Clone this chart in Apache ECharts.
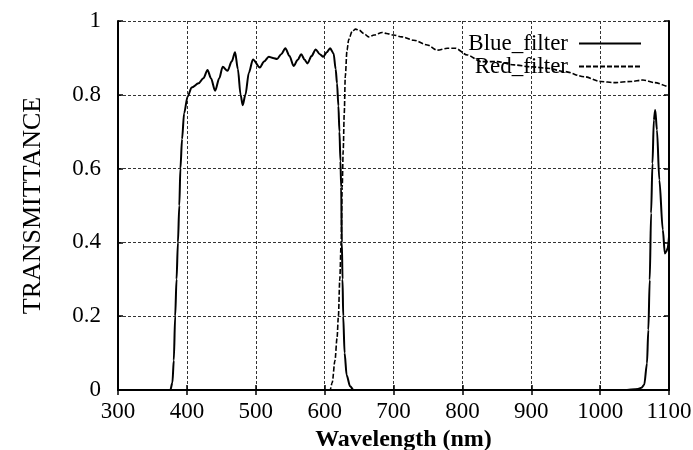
<!DOCTYPE html>
<html>
<head>
<meta charset="utf-8">
<script src="https://cdn.jsdelivr.net/npm/echarts@6/dist/echarts.min.js"></script>
<style>html,body{margin:0;padding:0;background:#fff;}#c{width:693px;height:450px;}</style>
</head>
<body>
<div id="c"></div>
<script>
const xTicks = [300, 400, 500, 600, 700, 800, 900, 1000, 1100];
const yTicks = [0, 0.2, 0.4, 0.6, 0.8, 1];
const seriesNames = ['Blue_filter', 'Red_filter'];

const blueWavelength = [300, 376, 379, 381, 383, 385, 387, 389, 390.6, 393, 396, 401, 407, 417, 424, 430, 435, 441, 447, 452, 459, 465, 470, 474, 478, 481, 485, 490, 496, 506, 512, 519, 525, 531, 537, 543, 549, 555, 561, 566, 571, 575, 581, 587, 593, 598, 603, 608, 613, 616, 618, 620, 621.5, 623, 624, 625, 626, 627, 629, 632, 637, 642, 1035, 1055, 1060, 1064, 1068, 1070, 1072, 1074, 1076, 1078, 1080, 1082.5, 1086, 1091, 1094, 1096, 1098, 1100];
const blueTransmittance = [0, 0, 0.02, 0.08, 0.2, 0.3, 0.4, 0.5, 0.6, 0.68, 0.75, 0.795, 0.82, 0.831, 0.845, 0.867, 0.845, 0.811, 0.845, 0.876, 0.865, 0.89, 0.915, 0.87, 0.8, 0.772, 0.8, 0.86, 0.896, 0.874, 0.89, 0.903, 0.9, 0.897, 0.91, 0.926, 0.905, 0.878, 0.895, 0.91, 0.895, 0.885, 0.905, 0.923, 0.91, 0.903, 0.915, 0.926, 0.912, 0.87, 0.831, 0.77, 0.7, 0.62, 0.55, 0.4, 0.3, 0.2, 0.1, 0.04, 0.01, 0, 0, 0.003, 0.006, 0.014, 0.072, 0.163, 0.298, 0.479, 0.614, 0.732, 0.759, 0.705, 0.569, 0.434, 0.37, 0.375, 0.384, 0.415];

const redWavelength = [300, 608, 611, 615, 618, 620, 622, 624, 625.5, 627, 628.5, 630, 632.5, 635, 640, 645, 650, 657, 664, 672, 683.6, 690, 700, 712, 729.5, 749, 763.6, 778, 790, 807, 827, 851, 875, 899, 924, 948, 977, 1001, 1020, 1045, 1062, 1079, 1100];
const redTransmittance = [0, 0, 0.02, 0.08, 0.14, 0.2, 0.3, 0.4, 0.55, 0.65, 0.75, 0.85, 0.921, 0.95, 0.972, 0.978, 0.975, 0.966, 0.957, 0.962, 0.969, 0.966, 0.962, 0.957, 0.948, 0.935, 0.921, 0.926, 0.926, 0.908, 0.89, 0.89, 0.881, 0.876, 0.872, 0.863, 0.849, 0.836, 0.833, 0.836, 0.84, 0.833, 0.82];

const blueData = blueWavelength.map((x, i) => [x, blueTransmittance[i]]);
const redData = redWavelength.map((x, i) => [x, redTransmittance[i]]);

const font = 'Liberation Serif';
const chart = echarts.init(document.getElementById('c'), null, {renderer: 'canvas'});
const gridLine = {show: true, lineStyle: {color: '#333', width: 1, type: [3, 2]}};
const legendBase = {right: 51, itemWidth: 62, itemHeight: 12, itemGap: 0, padding: 0, align: 'right',
  itemStyle: {opacity: 0},
  textStyle: {fontFamily: font, fontSize: 23, color: '#000', padding: [0, 6, 0, 0]}};
chart.setOption({
  backgroundColor: '#fff',
  animation: false,
  grid: {left: 118, right: 24, top: 21, bottom: 60, containLabel: false, outerBoundsMode: 'none'},
  legend: [
    Object.assign({data: [seriesNames[0]], top: 32}, legendBase),
    Object.assign({data: [seriesNames[1]], top: 55}, legendBase)
  ],
  xAxis: [
    {type: 'value', min: xTicks[0], max: xTicks[xTicks.length - 1], interval: 100, position: 'bottom',
     name: 'Wavelength (nm)', nameLocation: 'middle', nameGap: 38,
     nameTextStyle: {fontFamily: font, fontSize: 24, color: '#000', fontWeight: 'bold', padding: [0, 0, 0, 20]},
     axisLine: {lineStyle: {color: '#000', width: 2}},
     axisTick: {inside: true, length: 5, lineStyle: {color: '#000', width: 1.5}},
     axisLabel: {fontFamily: font, fontSize: 23, color: '#000', margin: 10, formatter: v => String(v)},
     splitLine: gridLine},
    {type: 'value', min: xTicks[0], max: xTicks[xTicks.length - 1], interval: 100, position: 'top',
     axisLine: {show: true, lineStyle: {color: '#000', width: 2}},
     axisTick: {show: true, inside: true, length: 5, lineStyle: {color: '#000', width: 1.5}},
     axisLabel: {show: false}, splitLine: {show: false}}
  ],
  yAxis: [
    {type: 'value', min: yTicks[0], max: yTicks[yTicks.length - 1], interval: 0.2, position: 'left',
     name: 'TRANSMITTANCE', nameLocation: 'middle', nameGap: 72,
     nameTextStyle: {fontFamily: font, fontSize: 26, color: '#000'},
     axisLine: {show: true, lineStyle: {color: '#000', width: 2}},
     axisTick: {show: true, inside: true, length: 5, lineStyle: {color: '#000', width: 1.5}},
     axisLabel: {fontFamily: font, fontSize: 23, color: '#000', margin: 17},
     splitLine: gridLine},
    {type: 'value', min: yTicks[0], max: yTicks[yTicks.length - 1], interval: 0.2, position: 'right',
     axisLine: {show: true, lineStyle: {color: '#000', width: 2}},
     axisTick: {show: true, inside: true, length: 5, lineStyle: {color: '#000', width: 1.5}},
     axisLabel: {show: false}, splitLine: {show: false}}
  ],
  series: [
    {name: seriesNames[0], type: 'line', data: blueData, xAxisIndex: 0, yAxisIndex: 0,
     symbol: 'none', smooth: 0.3, smoothMonotone: 'x',
     lineStyle: {color: '#000', width: 2, type: 'solid'}, itemStyle: {color: '#000'}},
    {name: seriesNames[1], type: 'line', data: redData, xAxisIndex: 0, yAxisIndex: 0,
     symbol: 'none', smooth: 0.3, smoothMonotone: 'x',
     lineStyle: {color: '#000', width: 1.6, type: [5, 2]}, itemStyle: {color: '#000'}}
  ]
});
</script>
</body>
</html>
